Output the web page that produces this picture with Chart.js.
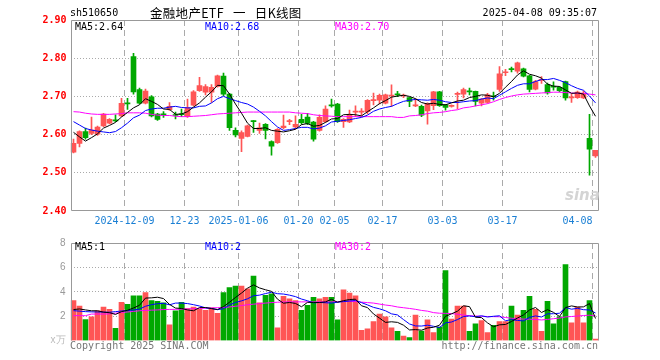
<!DOCTYPE html>
<html>
<head>
<meta charset="utf-8">
<script src="https://cdn.jsdelivr.net/npm/chart.js@4.4.1/dist/chart.umd.min.js"></script>
<style>
  body { margin: 0; background: #fff; }
  #wrap { position: relative; width: 660px; height: 360px; overflow: hidden;
          font-family: 'DejaVu Sans Mono', monospace; font-size: 10px; }
  canvas { position: absolute; left: 0; }
  .t { position: absolute; white-space: pre; line-height: 12px; }
</style>
</head>
<body>
<div id="wrap">
  <canvas id="kline" width="660" height="232" style="top:0"></canvas>
  <canvas id="vol" width="660" height="128" style="top:232px"></canvas>

  <div class="t" style="left:70px;top:7px">sh510650</div>
  <div class="t" style="left:150px;top:5px;font-family:'Noto Sans CJK SC';font-size:12.5px;line-height:16px;letter-spacing:0.3px;word-spacing:6px">金融地产ETF 一 日K线图</div>
  <div class="t" style="right:63px;top:7px">2025-04-08 09:35:07</div>

  <div class="t" style="left:75px;top:21px;color:#000">MA5:2.64</div>
  <div class="t" style="left:205px;top:21px;color:#0000ff">MA10:2.68</div>
  <div class="t" style="left:335px;top:21px;color:#ff00ff">MA30:2.70</div>

  <div class="t" style="left:75px;top:241px;color:#000">MA5:1</div>
  <div class="t" style="left:205px;top:241px;color:#0000ff">MA10:2</div>
  <div class="t" style="left:335px;top:241px;color:#ff00ff">MA30:2</div>

  <div class="t" style="left:565px;top:186px;font-family:'DejaVu Sans';font-weight:bold;font-style:italic;font-size:15px;line-height:18px;color:#d4d4d4">sina</div>

  <div class="t" style="left:70px;top:340px;color:#777">Copyright 2025 SINA.COM</div>
  <div class="t" style="right:62px;top:340px;color:#777">http://finance.sina.com.cn</div>
</div>

<script>
// 交易日
const dates = [
  '2024-11-26','2024-11-27','2024-11-28','2024-11-29','2024-12-02','2024-12-03','2024-12-04','2024-12-05','2024-12-06',
  '2024-12-09','2024-12-10','2024-12-11','2024-12-12','2024-12-13','2024-12-16','2024-12-17','2024-12-18','2024-12-19','2024-12-20',
  '2024-12-23','2024-12-24','2024-12-25','2024-12-26','2024-12-27','2024-12-30','2024-12-31','2025-01-02','2025-01-03',
  '2025-01-06','2025-01-07','2025-01-08','2025-01-09','2025-01-10','2025-01-13','2025-01-14','2025-01-15','2025-01-16','2025-01-17',
  '2025-01-20','2025-01-21','2025-01-22','2025-01-23','2025-01-24','2025-01-27',
  '2025-02-05','2025-02-06','2025-02-07','2025-02-10','2025-02-11','2025-02-12','2025-02-13','2025-02-14',
  '2025-02-17','2025-02-18','2025-02-19','2025-02-20','2025-02-21','2025-02-24','2025-02-25','2025-02-26','2025-02-27','2025-02-28',
  '2025-03-03','2025-03-04','2025-03-05','2025-03-06','2025-03-07','2025-03-10','2025-03-11','2025-03-12','2025-03-13','2025-03-14',
  '2025-03-17','2025-03-18','2025-03-19','2025-03-20','2025-03-21','2025-03-24','2025-03-25','2025-03-26','2025-03-27','2025-03-28',
  '2025-03-31','2025-04-01','2025-04-02','2025-04-03','2025-04-07',
  '2025-04-08'
];
const tickDates  = ['2024-12-09','2024-12-23','2025-01-06','2025-01-20','2025-02-05','2025-02-17','2025-03-03','2025-03-17','2025-04-08'];
const tickLabels = ['2024-12-09','12-23','2025-01-06','01-20','02-05','02-17','03-03','03-17','04-08     '];
const priceTicks = [2.40, 2.50, 2.60, 2.70, 2.80, 2.90];
const volTicks = [0, 2, 4, 6, 8];

const opens = [
  2.554,2.577,2.608,2.603,2.601,2.623,2.630,2.638,2.649,2.683,
  2.804,2.718,2.682,2.699,2.654,2.653,2.665,2.652,2.653,2.647,
  2.677,2.715,2.711,2.711,2.726,2.753,2.706,2.611,2.590,2.595,
  2.636,2.611,2.627,2.582,2.579,2.618,2.634,2.620,2.640,2.646,
  2.633,2.611,2.634,2.676,2.680,2.634,2.633,2.659,2.659,2.660,
  2.689,2.690,2.682,2.701,2.706,2.701,2.697,2.675,2.674,2.662,
  2.676,2.712,2.678,2.674,2.705,2.706,2.713,2.713,2.682,2.684,
  2.700,2.718,2.762,2.771,2.766,2.772,2.754,2.719,2.742,2.731,
  2.725,2.724,2.739,2.696,2.697,2.696,2.590,2.544
];
const highs = [
  2.588,2.610,2.617,2.646,2.622,2.656,2.642,2.652,2.695,2.695,
  2.813,2.722,2.719,2.702,2.656,2.660,2.684,2.659,2.667,2.693,
  2.715,2.750,2.731,2.731,2.756,2.761,2.708,2.618,2.610,2.625,
  2.637,2.630,2.629,2.584,2.616,2.651,2.640,2.649,2.653,2.656,
  2.635,2.652,2.675,2.693,2.682,2.642,2.664,2.675,2.668,2.692,
  2.709,2.706,2.706,2.730,2.713,2.706,2.698,2.694,2.677,2.683,
  2.713,2.713,2.679,2.678,2.711,2.722,2.722,2.714,2.694,2.708,
  2.711,2.778,2.771,2.777,2.790,2.774,2.755,2.742,2.752,2.735,
  2.738,2.726,2.740,2.706,2.714,2.714,2.653,2.559
];
const lows = [
  2.552,2.568,2.588,2.600,2.598,2.621,2.628,2.634,2.647,2.666,
  2.706,2.680,2.680,2.646,2.637,2.645,2.663,2.641,2.647,2.645,
  2.675,2.713,2.704,2.684,2.724,2.702,2.611,2.594,2.555,2.594,
  2.606,2.603,2.589,2.546,2.577,2.615,2.626,2.615,2.627,2.626,
  2.583,2.609,2.632,2.672,2.632,2.619,2.631,2.647,2.650,2.654,
  2.678,2.680,2.680,2.674,2.699,2.697,2.673,2.673,2.647,2.627,
  2.665,2.674,2.664,2.672,2.667,2.696,2.704,2.675,2.675,2.682,
  2.690,2.713,2.754,2.764,2.761,2.751,2.712,2.717,2.734,2.706,
  2.716,2.712,2.690,2.684,2.695,2.694,2.494,2.540
];
const closes = [
  2.577,2.608,2.592,2.612,2.620,2.654,2.640,2.636,2.682,2.680,
  2.712,2.682,2.714,2.649,2.640,2.652,2.674,2.650,2.652,2.671,
  2.712,2.728,2.726,2.724,2.754,2.706,2.618,2.599,2.605,2.623,
  2.634,2.618,2.611,2.570,2.614,2.622,2.635,2.627,2.631,2.629,
  2.588,2.645,2.667,2.675,2.634,2.640,2.651,2.661,2.660,2.690,
  2.690,2.703,2.704,2.702,2.704,2.702,2.687,2.676,2.651,2.682,
  2.712,2.676,2.671,2.675,2.708,2.718,2.712,2.687,2.693,2.704,
  2.699,2.759,2.763,2.770,2.788,2.753,2.718,2.739,2.743,2.709,
  2.724,2.715,2.696,2.697,2.711,2.709,2.562,2.559
];
const ma5 = [
  2.606,2.594,2.583,2.592,2.602,2.617,2.624,2.632,2.646,2.658,
  2.670,2.678,2.694,2.687,2.679,2.667,2.666,2.653,2.654,2.660,
  2.672,2.683,2.698,2.712,2.729,2.728,2.706,2.680,2.656,2.630,
  2.616,2.616,2.618,2.611,2.609,2.607,2.610,2.614,2.626,2.629,
  2.622,2.624,2.632,2.641,2.642,2.652,2.653,2.652,2.649,2.660,
  2.670,2.681,2.689,2.698,2.701,2.703,2.700,2.694,2.684,2.680,
  2.682,2.679,2.678,2.683,2.688,2.690,2.697,2.700,2.704,2.703,
  2.699,2.708,2.724,2.739,2.756,2.767,2.758,2.754,2.748,2.732,
  2.727,2.726,2.717,2.708,2.709,2.706,2.675,2.648
];
const ma10 = [
  2.634,2.625,2.616,2.612,2.609,2.607,2.605,2.608,2.618,2.630,
  2.644,2.651,2.663,2.667,2.669,2.669,2.672,2.674,2.671,2.670,
  2.670,2.674,2.675,2.683,2.694,2.700,2.694,2.689,2.684,2.680,
  2.672,2.661,2.649,2.634,2.620,2.611,2.613,2.616,2.619,2.619,
  2.615,2.617,2.623,2.633,2.635,2.637,2.639,2.642,2.645,2.651,
  2.661,2.667,2.671,2.674,2.681,2.687,2.690,2.692,2.691,2.690,
  2.692,2.690,2.686,2.684,2.684,2.686,2.688,2.689,2.693,2.696,
  2.694,2.703,2.712,2.721,2.729,2.733,2.733,2.739,2.744,2.744,
  2.747,2.742,2.736,2.728,2.721,2.716,2.701,2.683
];
const ma30 = [
  2.660,2.659,2.656,2.654,2.653,2.653,2.653,2.654,2.655,2.657,
  2.657,2.657,2.656,2.653,2.651,2.650,2.650,2.648,2.647,2.647,
  2.648,2.649,2.650,2.652,2.654,2.655,2.656,2.657,2.658,2.659,
  2.659,2.659,2.659,2.659,2.659,2.659,2.659,2.657,2.656,2.655,
  2.652,2.650,2.649,2.648,2.647,2.647,2.647,2.647,2.647,2.647,
  2.647,2.647,2.647,2.647,2.645,2.645,2.649,2.650,2.652,2.655,
  2.657,2.658,2.660,2.663,2.665,2.670,2.672,2.675,2.678,2.681,
  2.686,2.692,2.697,2.701,2.704,2.706,2.707,2.708,2.709,2.710,
  2.711,2.711,2.710,2.709,2.708,2.708,2.706,2.704
];

// 成交量 (万)
const volumes = [
  3.28,2.83,1.72,1.96,2.44,2.75,2.57,1.01,3.15,2.97,
  3.68,3.68,3.95,3.28,3.23,3.10,1.30,2.44,3.15,2.62,
  2.75,2.57,2.49,2.70,2.25,3.95,4.34,4.48,4.48,4.24,
  5.30,3.10,3.71,3.84,1.06,3.63,3.42,3.28,2.49,2.89,
  3.55,3.42,3.55,3.55,1.70,4.16,3.89,3.68,0.85,0.98,
  1.56,2.17,1.96,1.06,0.77,0.37,0.26,2.09,0.79,1.70,
  0.66,1.11,5.75,1.77,2.83,2.83,0.77,1.38,1.64,0.66,
  1.25,1.56,1.56,2.83,2.09,2.49,3.63,2.57,0.77,3.23,
  1.38,1.96,6.23,1.46,2.75,1.46,3.28,0.13
];
const volMa5 = [
  2.55,2.60,2.52,2.45,2.45,2.34,2.29,2.15,2.38,2.49,
  2.68,2.90,3.49,3.51,3.56,3.45,2.97,2.67,2.64,2.52,
  2.45,2.71,2.72,2.63,2.55,2.79,3.15,3.54,3.90,4.30,
  4.57,4.32,4.17,4.04,3.40,3.07,3.13,3.05,2.78,3.14,
  3.13,3.13,3.18,3.39,3.15,3.28,3.37,3.40,2.86,2.71,
  2.19,1.85,1.50,1.55,1.50,1.27,0.88,0.91,0.86,1.04,
  1.10,1.27,2.00,2.20,2.42,2.86,2.79,1.92,1.89,1.46,
  1.14,1.30,1.33,1.57,1.86,2.11,2.52,2.72,2.31,2.54,
  2.32,1.98,2.71,2.85,2.76,2.77,3.04,1.82
];
const volMa10 = [
  2.46,2.42,2.38,2.36,2.35,2.34,2.33,2.38,2.43,2.47,
  2.51,2.59,2.82,2.95,3.03,3.06,2.94,3.08,3.08,3.04,
  2.95,2.84,2.69,2.64,2.54,2.62,2.93,3.13,3.26,3.43,
  3.68,3.73,3.86,3.97,3.85,3.82,3.73,3.61,3.41,3.27,
  3.10,3.13,3.11,3.08,3.15,3.20,3.25,3.29,3.12,2.93,
  2.73,2.61,2.45,2.20,2.11,1.73,1.37,1.21,1.20,1.27,
  1.18,1.08,1.46,1.53,1.73,1.98,2.03,1.96,2.04,1.94,
  2.00,2.04,1.63,1.73,1.66,1.62,1.91,2.03,1.94,2.20,
  2.21,2.25,2.72,2.58,2.65,2.54,2.51,2.27
];
const volMa30 = [
  2.05,2.05,2.05,2.18,2.18,2.18,2.20,2.25,2.32,2.35,
  2.40,2.45,2.48,2.50,2.52,2.55,2.56,2.57,2.58,2.60,
  2.62,2.64,2.66,2.68,2.70,2.72,2.76,2.82,2.88,2.94,
  2.99,3.04,3.08,3.12,3.15,3.17,3.18,3.18,3.18,3.18,
  3.18,3.18,3.18,3.18,3.20,3.22,3.23,3.20,3.16,3.12,
  3.08,3.00,2.92,2.86,2.76,2.70,2.64,2.57,2.48,2.42,
  2.30,2.25,2.24,2.22,2.17,2.10,2.04,2.02,2.00,1.98,
  1.97,1.96,1.90,1.84,1.80,1.77,1.76,1.74,1.70,1.74,
  1.80,1.85,1.95,1.98,2.02,2.06,2.09,2.04
];

const RED = '#ff5555';
const GREEN = '#00a800';
const GRID = '#aaaaaa';
const candleColors = closes.map((c, i) => c >= opens[i] ? RED : GREEN);

// 外框
const framePlugin = {
  id: 'frame',
  afterDraw(chart, args, opts) {
    const a = chart.chartArea, c = chart.ctx;
    const l = Math.round(a.left) + 0.5, r = Math.round(a.right) - 0.5;
    const t = Math.round(a.top) + 0.5, b = Math.round(a.bottom) - 0.5;
    c.save();
    c.strokeStyle = '#999';
    c.lineWidth = 1;
    c.beginPath();
    c.moveTo(l, b); c.lineTo(l, t); c.lineTo(r, t); c.lineTo(r, b);
    if (opts.bottom) c.lineTo(l, b);
    c.stroke();
    c.restore();
  }
};

function lineSet(data, color) {
  return { type: 'line', data: data, borderColor: color, borderWidth: 1,
           pointRadius: 0, fill: false, tension: 0, order: 0 };
}

function xAxis(showLabels, height) {
  return {
    offset: true,
    grid: {
      offset: true,
      drawTicks: false,
      color: ctx => tickDates.includes(dates[ctx.index]) ? GRID : 'rgba(0,0,0,0)'
    },
    border: { display: false, dash: [6, 4] },
    ticks: {
      display: showLabels,
      autoSkip: false,
      maxRotation: 0,
      padding: 4,
      labelOffset: -3,
      color: '#1a7fd4',
      font: { family: 'DejaVu Sans Mono', size: 10 },
      callback: (v, i) => {
        const k = tickDates.indexOf(dates[i]);
        return k >= 0 ? tickLabels[k] : '';
      }
    },
    afterFit: s => { s.height = height; }
  };
}

const common = {
  responsive: false,
  animation: false,
  devicePixelRatio: 1,
  events: [],
  plugins: { legend: { display: false }, tooltip: { enabled: false } }
};

new Chart(document.getElementById('kline'), {
  type: 'bar',
  data: {
    labels: dates,
    datasets: [
      lineSet(ma5, '#000000'),
      lineSet(ma10, '#0000ff'),
      lineSet(ma30, '#ff00ff'),
      { data: opens.map((o, i) => [o, closes[i]]), backgroundColor: candleColors,
        barThickness: 5, minBarLength: 1, grouped: false, order: 1 },
      { data: lows.map((l, i) => [l, highs[i]]), backgroundColor: candleColors,
        barThickness: 1, grouped: false, order: 2 }
    ]
  },
  options: Object.assign({}, common, {
    layout: { padding: { top: 20, right: 61.5, left: 0, bottom: 0 } },
    scales: {
      x: xAxis(true, 21),
      y: {
        min: 2.40, max: 2.90,
        afterBuildTicks: s => { s.ticks = priceTicks.map(v => ({ value: v })); },
        ticks: {
          padding: 4,
          color: '#ff0000',
          font: { family: 'DejaVu Sans Mono', size: 10, weight: 'bold' },
          callback: v => v.toFixed(2)
        },
        grid: {
          drawTicks: false,
          color: ctx => (ctx.tick && ctx.tick.value > 2.41 && ctx.tick.value < 2.89) ? GRID : 'rgba(0,0,0,0)'
        },
        border: { display: false, dash: [1, 2] },
        afterFit: s => { s.width = 70.5; }
      }
    },
    plugins: Object.assign({}, common.plugins, { frame: { bottom: true } })
  }),
  plugins: [framePlugin]
});

new Chart(document.getElementById('vol'), {
  type: 'bar',
  data: {
    labels: dates,
    datasets: [
      lineSet(volMa5, '#000000'),
      lineSet(volMa10, '#0000ff'),
      lineSet(volMa30, '#ff00ff'),
      { data: volumes, backgroundColor: candleColors, barThickness: 5,
        grouped: false, order: 1 }
    ]
  },
  options: Object.assign({}, common, {
    layout: { padding: { top: 8, right: 61.5, left: 0, bottom: 0 } },
    scales: {
      x: xAxis(false, 19.3),
      y: {
        min: 0, max: 8,
        afterBuildTicks: s => { s.ticks = volTicks.map(v => ({ value: v })); },
        ticks: {
          padding: 5,
          color: ctx => ctx.tick && ctx.tick.value === 0 ? '#bbbbbb' : '#999999',
          font: { family: 'Liberation Sans', size: 10 },
          callback: v => v === 0 ? 'x万' : String(v)
        },
        grid: {
          drawTicks: false,
          color: ctx => (ctx.tick && ctx.tick.value > 0 && ctx.tick.value < 8) ? GRID : 'rgba(0,0,0,0)'
        },
        border: { display: false, dash: [1, 2] },
        afterFit: s => { s.width = 70.5; }
      }
    },
    plugins: Object.assign({}, common.plugins, { frame: { bottom: false } })
  }),
  plugins: [framePlugin]
});
</script>
</body>
</html>
